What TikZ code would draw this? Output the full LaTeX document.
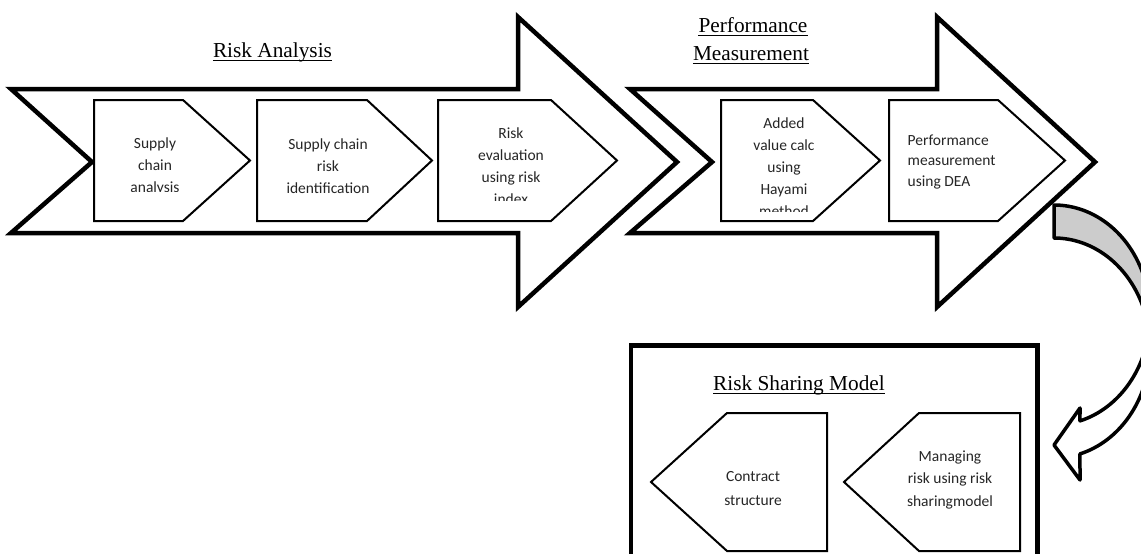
\documentclass[tikz,border=0pt]{standalone}
\usepackage{fontspec}
\setmainfont{Liberation Serif}
\newfontfamily\boxfont{Carlito}
\definecolor{backgray}{HTML}{CCCCCC}
\begin{document}
\begin{tikzpicture}[x=1pt,y=-1pt,
  bigarrow/.style={draw=black, line width=4.5pt, line join=miter},
  chevbox/.style={draw=black, line width=2pt, fill=white},
  framebox/.style={draw=black, line width=4.5pt},
  curvearrow/.style={draw=black, line width=3.5pt, line join=round},
  boxtext/.style={font=\boxfont\fontsize{15.5}{22}\selectfont, align=center, inner sep=0pt, text=black!85},
  titletext/.style={font=\fontsize{21.3}{28}\selectfont, inner sep=0pt, anchor=base},
  uline/.style={line width=1.1pt},
]
\useasboundingbox (0,0) rectangle (1141,554);
\fill[white] (0,0) rectangle (1141,554);
\clip (0,0) rectangle (1141,554);

% big process arrows
\draw[bigarrow] (11,89) -- (518,89) -- (518,17) -- (677,162) -- (518,307) -- (518,233) -- (11,233) -- (92,162) -- cycle;
\draw[bigarrow] (630,89) -- (937,89) -- (937,17) -- (1095,162) -- (937,307) -- (937,233) -- (630,233) -- (712,162) -- cycle;

% inner step boxes (right-pointing)
\draw[chevbox] (94,100) -- (183,100) -- (250,160.5) -- (183,221) -- (94,221) -- cycle;
\draw[chevbox] (257,100) -- (367,100) -- (432,160.5) -- (367,221) -- (257,221) -- cycle;
\draw[chevbox] (438,100) -- (551,100) -- (617,160.5) -- (551,221) -- (438,221) -- cycle;
\draw[chevbox] (721,100) -- (813,100) -- (880,160.5) -- (813,221) -- (721,221) -- cycle;
\draw[chevbox] (889,100) -- (998,100) -- (1065,160.5) -- (998,221) -- (889,221) -- cycle;

% titles
\node[titletext] (ratitle) at (272.5,57) {Risk Analysis};
\draw[uline] ([yshift=-3.5pt]ratitle.base west) -- ([yshift=-3.5pt]ratitle.base east);
\node[titletext] (pmtitleA) at (753,32) {Performance};
\draw[uline] ([yshift=-3.5pt]pmtitleA.base west) -- ([yshift=-3.5pt]pmtitleA.base east);
\node[titletext] (pmtitleB) at (751,60) {Measurement};
\draw[uline] ([yshift=-3.5pt]pmtitleB.base west) -- ([yshift=-3.5pt]pmtitleB.base east);

% box texts
\begin{scope}
  \clip (94,100) rectangle (250,191.2);
  \node[boxtext] (b1t) at (155,166) {Supply\\chain\\analysis};
\end{scope}
\node[boxtext] (b2t) at (328,166) {Supply chain\\risk\\identification};
\begin{scope}
  \clip (438,100) rectangle (617,200.5);
  \node[boxtext] (b3t) at (511,166) {Risk\\evaluation\\using risk\\index};
\end{scope}
\begin{scope}
  \clip (721,100) rectangle (880,211.5);
  \node[boxtext] (b4t) at (784,167) {Added\\value calc\\using\\Hayami\\method};
\end{scope}
\node[boxtext, align=left, anchor=west, font=\boxfont\fontsize{15.5}{20.5}\selectfont] (b5t) at (907.5,162) {Performance\\measurement\\using DEA};

% curved arrow (back part shaded, front part with head)
\filldraw[curvearrow, fill=backgray]
  plot[domain=-90:8.63, samples=60] ({1054+96*cos(\x)},{315+110*sin(\x)})
  -- plot[domain=-8.63:-90, samples=60] ({1054+96*cos(\x)},{348+110*sin(\x)}) -- cycle;
\filldraw[curvearrow, fill=white]
  plot[domain=8.63:74.3, samples=60] ({1054+96*cos(\x)},{315+110*sin(\x)})
  -- (1080,408) -- (1054,445) -- (1080,480)
  -- plot[domain=74.3:-8.63, samples=60] ({1054+96*cos(\x)},{348+110*sin(\x)}) -- cycle;

% risk sharing model frame
\draw[framebox] (631,345.5) rectangle (1037.5,600);
\node[titletext] (rsmtitle) at (799,390) {Risk Sharing Model};
\draw[uline] ([yshift=-3.5pt]rsmtitle.base west) -- ([yshift=-3.5pt]rsmtitle.base east);

% left-pointing boxes
\draw[chevbox] (827,413) -- (727,413) -- (651,482) -- (727,551) -- (827,551) -- cycle;
\draw[chevbox] (1020,413) -- (919,413) -- (844,482) -- (919,551) -- (1020,551) -- cycle;
\node[boxtext, font=\boxfont\fontsize{15.5}{24}\selectfont] (ct) at (753,489) {Contract\\structure};
\node[boxtext, font=\boxfont\fontsize{15.5}{22.5}\selectfont] (mt) at (950,479.5) {Managing\\risk using risk\\sharingmodel};
\end{tikzpicture}
\end{document}
